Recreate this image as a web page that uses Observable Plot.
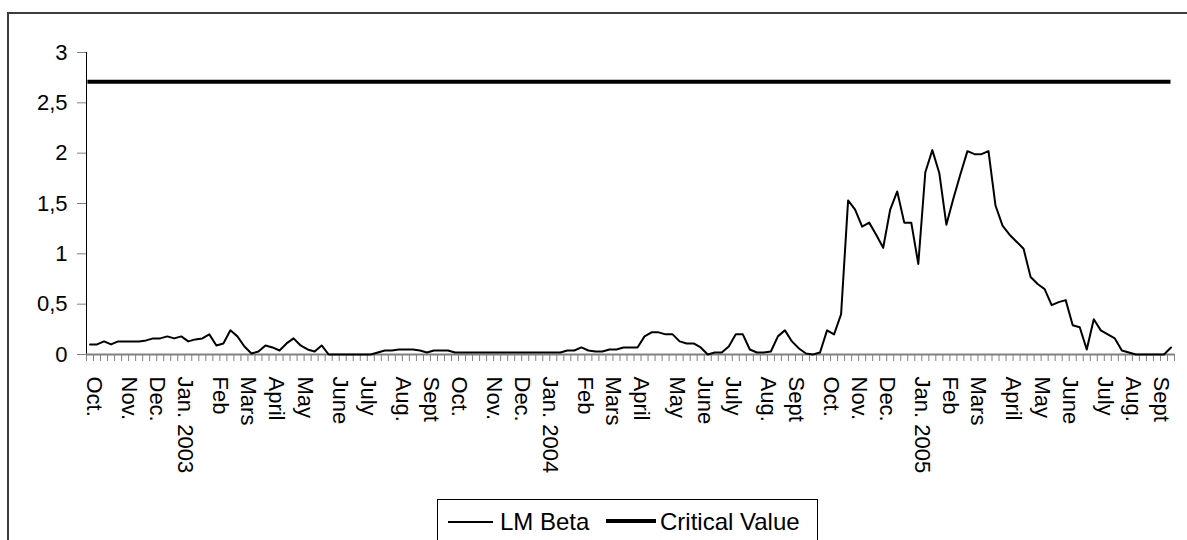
<!DOCTYPE html>
<html>
<head>
<meta charset="utf-8">
<script src="https://cdn.jsdelivr.net/npm/d3@7"></script>
<script src="https://cdn.jsdelivr.net/npm/@observablehq/plot@0.6"></script>
<style>
  html, body { margin: 0; padding: 0; background: #fff; width: 1187px; height: 540px; overflow: hidden; }
  #frame { position: absolute; left: 7px; top: 12px; width: 1210px; height: 580px; border: 2px solid #3c3c3c; box-sizing: border-box; }
  #chart { position: absolute; left: 0; top: 0; }
  #legend { position: absolute; left: 437px; top: 499px; width: 381px; height: 60px; border: 1px solid #000; box-sizing: border-box;
            font-family: "Liberation Sans", Arial, sans-serif; font-size: 24px; color: #000; }
  .sw { position: absolute; background: #000; }
  .lt { position: absolute; top: 8px; line-height: 28px; white-space: nowrap; }
</style>
</head>
<body>
<div id="frame"></div>
<div id="chart"></div>
<div id="legend">
  <div class="sw" style="left:10px; top:21px; width:45px; height:1.5px;"></div>
  <div class="lt" style="left:62px;">LM Beta</div>
  <div class="sw" style="left:168px; top:19px; width:50px; height:4px;"></div>
  <div class="lt" style="left:222px;">Critical Value</div>
</div>
<script>
// ---- data ----
const firstWeek = [2002, 9, 3]; // weekly series, first Thursday of Oct. 2002
const monthLabels = ["Oct.","Nov.","Dec.","Jan. 2003","Feb","Mars","April","May","June","July","Aug.","Sept",
                     "Oct.","Nov.","Dec.","Jan. 2004","Feb","Mars","April","May","June","July","Aug.","Sept",
                     "Oct.","Nov.","Dec.","Jan. 2005","Feb","Mars","April","May","June","July","Aug.","Sept"];
const lmBeta = [
  0.10,0.10,0.13,0.10,0.13,0.13,0.13,0.13,0.14,0.16,
  0.16,0.18,0.16,0.18,0.13,0.15,0.16,0.20,0.09,0.11,
  0.24,0.18,0.08,0.01,0.03,0.09,0.07,0.04,0.11,0.16,
  0.09,0.05,0.03,0.09,0.00,0.00,0.00,0.00,0.00,0.00,
  0.00,0.02,0.04,0.04,0.05,0.05,0.05,0.04,0.02,0.04,
  0.04,0.04,0.02,0.02,0.02,0.02,0.02,0.02,0.02,0.02,
  0.02,0.02,0.02,0.02,0.02,0.02,0.02,0.02,0.04,0.04,
  0.07,0.04,0.03,0.03,0.05,0.05,0.07,0.07,0.07,0.18,
  0.22,0.22,0.20,0.20,0.13,0.11,0.11,0.07,0.00,0.02,
  0.02,0.08,0.20,0.20,0.05,0.02,0.02,0.03,0.18,0.24,
  0.13,0.06,0.01,0.00,0.02,0.24,0.20,0.40,1.53,1.44,
  1.27,1.31,1.19,1.06,1.44,1.62,1.31,1.31,0.90,1.81,
  2.03,1.80,1.29,1.55,1.79,2.02,1.99,1.99,2.02,1.48,
  1.28,1.19,1.12,1.05,0.77,0.70,0.65,0.49,0.52,0.54,
  0.29,0.27,0.05,0.35,0.24,0.20,0.16,0.04,0.02,0.00,
  0.00,0.00,0.00,0.00,0.07
];
const criticalValue = 2.71;
const yTicks = [0, 0.5, 1, 1.5, 2, 2.5, 3];

// ---- derived ----
const N = lmBeta.length;
const dates = lmBeta.map((_, i) => new Date(Date.UTC(firstWeek[0], firstWeek[1], firstWeek[2] + 7 * i)));
const labelIdx = [];
dates.forEach((d, i) => { if (i === 0 || d.getUTCMonth() !== dates[i - 1].getUTCMonth()) labelIdx.push(i); });
const labelOf = new Map(labelIdx.map((i, k) => [i, monthLabels[k]]));
const data = lmBeta.map((v, i) => ({i, v}));
const boundaries = d3.range(N + 1).map(k => k - 0.5);

const chart = Plot.plot({
  width: 1187,
  height: 500,
  marginLeft: 86,
  marginRight: 13,
  marginTop: 52,
  marginBottom: 146,
  style: {fontFamily: "'Liberation Sans', Arial, sans-serif", fontSize: "22px", color: "#000", background: "transparent", overflow: "visible"},
  x: {type: "linear", domain: [-0.5, N - 0.5], label: null},
  y: {domain: [0, 3], label: null},
  marks: [
    Plot.axisY({ticks: yTicks, tickSize: 9, tickPadding: 10, stroke: "#808080", label: null,
                tickFormat: d => String(d).replace(".", ","), fontSize: 22}),
    Plot.ruleX([-0.5], {stroke: "#000", strokeWidth: 1}),
    Plot.axisX({ticks: boundaries, tickSize: 7, tickFormat: () => "", stroke: "#808080", label: null}),
    Plot.ruleY([0], {stroke: "#808080", strokeWidth: 2}),
    Plot.axisX({ticks: labelIdx, tickSize: 0, tickPadding: 22, tickRotate: 90, label: null, dx: 4,
                tickFormat: i => labelOf.get(i), fontSize: 22}),
    Plot.ruleY([criticalValue], {x1: -0.3, x2: N - 1, stroke: "#000", strokeWidth: 4}),
    Plot.line(data, {x: "i", y: "v", stroke: "#000", strokeWidth: 2})
  ]
});
document.getElementById("chart").appendChild(chart);
</script>
</body>
</html>
